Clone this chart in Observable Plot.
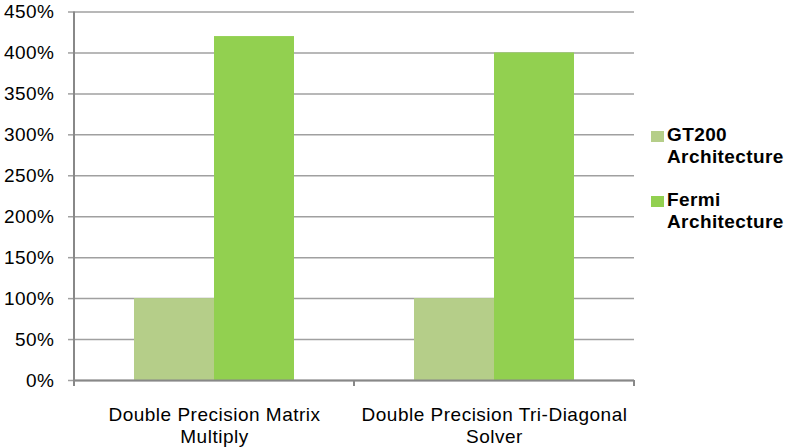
<!DOCTYPE html>
<html>
<head>
<meta charset="utf-8">
<script src="https://cdn.jsdelivr.net/npm/d3@7"></script>
<script src="https://cdn.jsdelivr.net/npm/@observablehq/plot@0.6"></script>
<style>
  html, body { margin: 0; padding: 0; background: #fff; }
  #wrap { position: relative; width: 792px; height: 448px; font-family: "Liberation Sans", Arial, sans-serif; }
  #legend { position: absolute; left: 651px; top: 124px; font-weight: bold; font-size: 19px; line-height: 22px; letter-spacing: 0.4px; color: #000; }
  .item { position: relative; padding-left: 16px; margin-bottom: 21px; }
  .sw { position: absolute; left: 0; top: 7px; width: 13px; height: 11px; }
</style>
</head>
<body>
<div id="wrap"></div>
<script>
const categories = ["Double Precision Matrix Multiply", "Double Precision Tri-Diagonal Solver"];
const categoryLabels = ["Double Precision Matrix\nMultiply", "Double Precision Tri-Diagonal\nSolver"];
const series = ["GT200 Architecture", "Fermi Architecture"];
const legendLabels = ["GT200<br>Architecture", "Fermi<br>Architecture"];
const gt200 = [100, 100];
const fermi = [420, 400];
const yTicks = [0, 50, 100, 150, 200, 250, 300, 350, 400, 450];
const colors = ["#b5ce89", "#92d050"];

const data = categories.flatMap((c, i) => [
  {cat: c, series: series[0], value: gt200[i]},
  {cat: c, series: series[1], value: fermi[i]}
]);

const chart = Plot.plot({
  width: 792, height: 448,
  marginLeft: 74, marginRight: 158, marginTop: 11.5, marginBottom: 68,
  style: {fontFamily: "'Liberation Sans', Arial, sans-serif", fontSize: "19px", color: "#000", background: "white", letterSpacing: "0.5px"},
  fx: {domain: categories, padding: 0, label: null, axis: null},
  x: {domain: series, paddingInner: 0, paddingOuter: 0.75, axis: null},
  y: {domain: [0, 450], label: null, axis: null},
  color: {domain: series, range: colors},
  marks: [
    Plot.gridY(yTicks, {stroke: "#a0a0a0", strokeOpacity: 1, strokeWidth: 1.5}),
    Plot.axisY(yTicks, {anchor: "left", tickSize: 6, tickPadding: 14, tickFormat: d => d + "%", stroke: "#a0a0a0", strokeWidth: 1.5, fill: "#000", fontSize: 19, label: null}),
    Plot.barY(data, {fx: "cat", x: "series", y: "value", fill: "series"}),
    Plot.ruleY([0], {stroke: "#888", strokeWidth: 2}),
    Plot.axisFx({anchor: "bottom", tickSize: 0, tickPadding: 24, tickFormat: d => categoryLabels[categories.indexOf(d)], fontSize: 19, lineHeight: 1.2, fill: "#000", label: null})
  ]
});

document.getElementById("wrap").appendChild(chart);

// left axis line and category boundary ticks from the library's scales
const fx = chart.scale("fx");
const ys = chart.scale("y");
const svg = d3.select(chart);
const x0 = fx.apply(categories[0]);
const y0 = ys.apply(0), yTop = ys.apply(450);
svg.append("line").attr("x1", x0).attr("x2", x0).attr("y1", yTop).attr("y2", y0 + 1)
  .attr("stroke", "#888").attr("stroke-width", 2);
const bounds = categories.map(c => fx.apply(c)).concat([fx.apply(categories[categories.length - 1]) + fx.bandwidth]);
bounds.forEach(b => {
  svg.append("line").attr("x1", b).attr("x2", b).attr("y1", y0).attr("y2", y0 + 6)
    .attr("stroke", "#888").attr("stroke-width", 2);
});

// legend
const legend = document.createElement("div");
legend.id = "legend";
series.forEach((s, i) => {
  const it = document.createElement("div");
  it.className = "item";
  it.innerHTML = `<span class="sw" style="background:${colors[i]}"></span>${legendLabels[i]}`;
  legend.appendChild(it);
});
document.getElementById("wrap").appendChild(legend);
</script>
</body>
</html>
